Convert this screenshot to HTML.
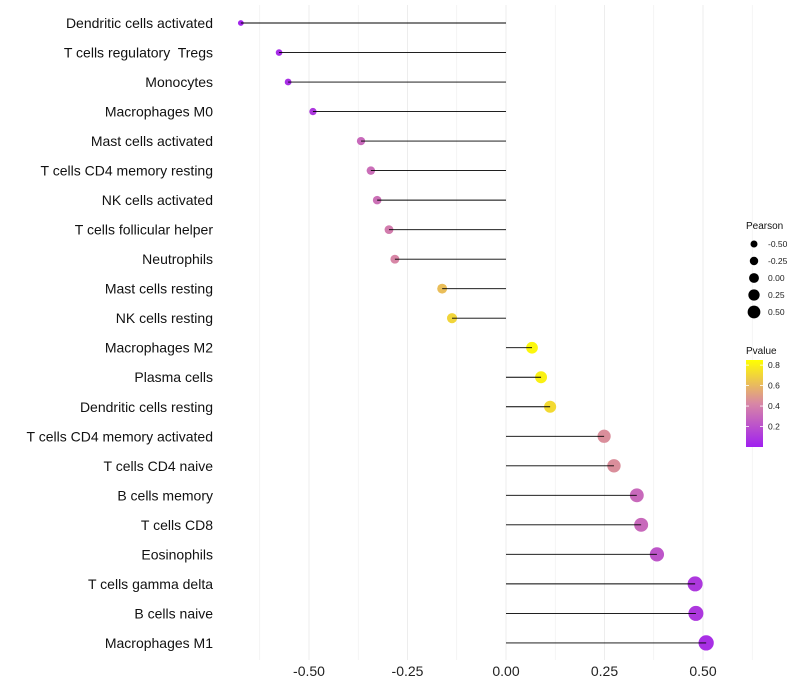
<!DOCTYPE html>
<html><head><meta charset="utf-8"><style>
body{margin:0;background:#fff;font-family:"Liberation Sans",sans-serif}
svg{display:block}
text{white-space:pre}
</style></head><body>
<svg id="chart" width="800" height="700" xmlns="http://www.w3.org/2000/svg"></svg>
<script>
const categories=["Dendritic cells activated","T cells regulatory  Tregs","Monocytes","Macrophages M0","Mast cells activated","T cells CD4 memory resting","NK cells activated","T cells follicular helper","Neutrophils","Mast cells resting","NK cells resting","Macrophages M2","Plasma cells","Dendritic cells resting","T cells CD4 memory activated","T cells CD4 naive","B cells memory","T cells CD8","Eosinophils","T cells gamma delta","B cells naive","Macrophages M1"];
const pearson=[-0.673,-0.576,-0.553,-0.49,-0.368,-0.343,-0.327,-0.297,-0.282,-0.162,-0.137,0.066,0.089,0.112,0.249,0.274,0.332,0.343,0.383,0.48,0.482,0.508];
const pvalue=[0.02,0.05,0.06,0.1,0.3,0.32,0.33,0.38,0.42,0.62,0.7,0.82,0.8,0.72,0.45,0.45,0.3,0.3,0.22,0.1,0.1,0.06];
const xTicks=[-0.5,-0.25,0,0.25,0.5];
const xTickLabels=["-0.50","-0.25","0.00","0.25","0.50"];
const sizeLegend=[-0.5,-0.25,0,0.25,0.5];
const sizeLegendLabels=["-0.50","-0.25","0.00","0.25","0.50"];
const pLegend=[0.2,0.4,0.6,0.8];

const svg=document.getElementById('chart');
const NS="http://www.w3.org/2000/svg";
const x=v=>506+v*394;
const y=i=>23+i*29.52;
const r=v=>Math.max(1.5,5.6+v*4.0);
function lerp(a,b,t){return a.map((c,i)=>Math.round(c+(b[i]-c)*t));}
const cLo=[160,32,240],cMid=[216,135,165],cHi=[255,255,0];
function col(p){let t=Math.min(1,Math.max(0,p/0.85));let c=t<0.5?lerp(cLo,cMid,t*2):lerp(cMid,cHi,(t-0.5)*2);return `rgb(${c})`;}
function el(tag,attrs,parent){const e=document.createElementNS(NS,tag);for(const k in attrs)e.setAttribute(k,attrs[k]);(parent||svg).appendChild(e);return e;}

for(let v=-0.625;v<=0.63;v+=0.125){
  const g=el('line',{x1:x(v),x2:x(v),y1:5,y2:660,stroke:'#ededed','stroke-width':Math.abs((v*4)%1)<0.01?1:0.6});
  
  
}
xTicks.forEach((v,i)=>{
  const t=el('text',{x:x(v),y:676,'text-anchor':'middle','font-size':14,fill:'#222'});
  t.textContent=xTickLabels[i];
  
  
});
categories.forEach((c,i)=>{
  const t=el('text',{x:213,y:y(i)+5,'text-anchor':'end','font-size':14,fill:'#111'});
  t.textContent=c;
  
  
  const pt=el('circle',{cx:x(pearson[i]),cy:y(i),r:r(pearson[i]),fill:col(pvalue[i])});
  
  
  const ln=el('line',{x1:x(0),x2:x(pearson[i]),y1:y(i),y2:y(i),stroke:'#000','stroke-width':0.9});
  
  
});
const st=el('text',{x:746,y:229,'font-size':10,fill:'#111'});st.textContent='Pearson';


sizeLegend.forEach((v,i)=>{
  const cy=244+i*17;
  const c=el('circle',{cx:754,cy:cy,r:r(v)*0.72+0.9,fill:'#000'});
  
  
  const t=el('text',{x:768,y:cy+3,'font-size':8.5,fill:'#222'});t.textContent=sizeLegendLabels[i];
  
  
});
const pt=el('text',{x:746,y:354,'font-size':10,fill:'#111'});pt.textContent='Pvalue';


const defs=el('defs',{});
const lg=el('linearGradient',{id:'pg',x1:0,y1:1,x2:0,y2:0},defs);
el('stop',{offset:'0%','stop-color':col(0)},lg);
el('stop',{offset:'50%','stop-color':col(0.425)},lg);
el('stop',{offset:'100%','stop-color':col(0.85)},lg);
const bar=el('rect',{x:746,y:360,width:17,height:87,fill:'url(#pg)'});


const py=p=>447-p*(87/0.85);
pLegend.forEach(p=>{
  el('line',{x1:746,x2:749,y1:py(p),y2:py(p),stroke:'#fff','stroke-width':0.8});
  el('line',{x1:760,x2:763,y1:py(p),y2:py(p),stroke:'#fff','stroke-width':0.8});
  const t=el('text',{x:768,y:py(p)+3,'font-size':8.5,fill:'#222'});t.textContent=p.toFixed(1);
  
  
});
</script>
</body></html>
